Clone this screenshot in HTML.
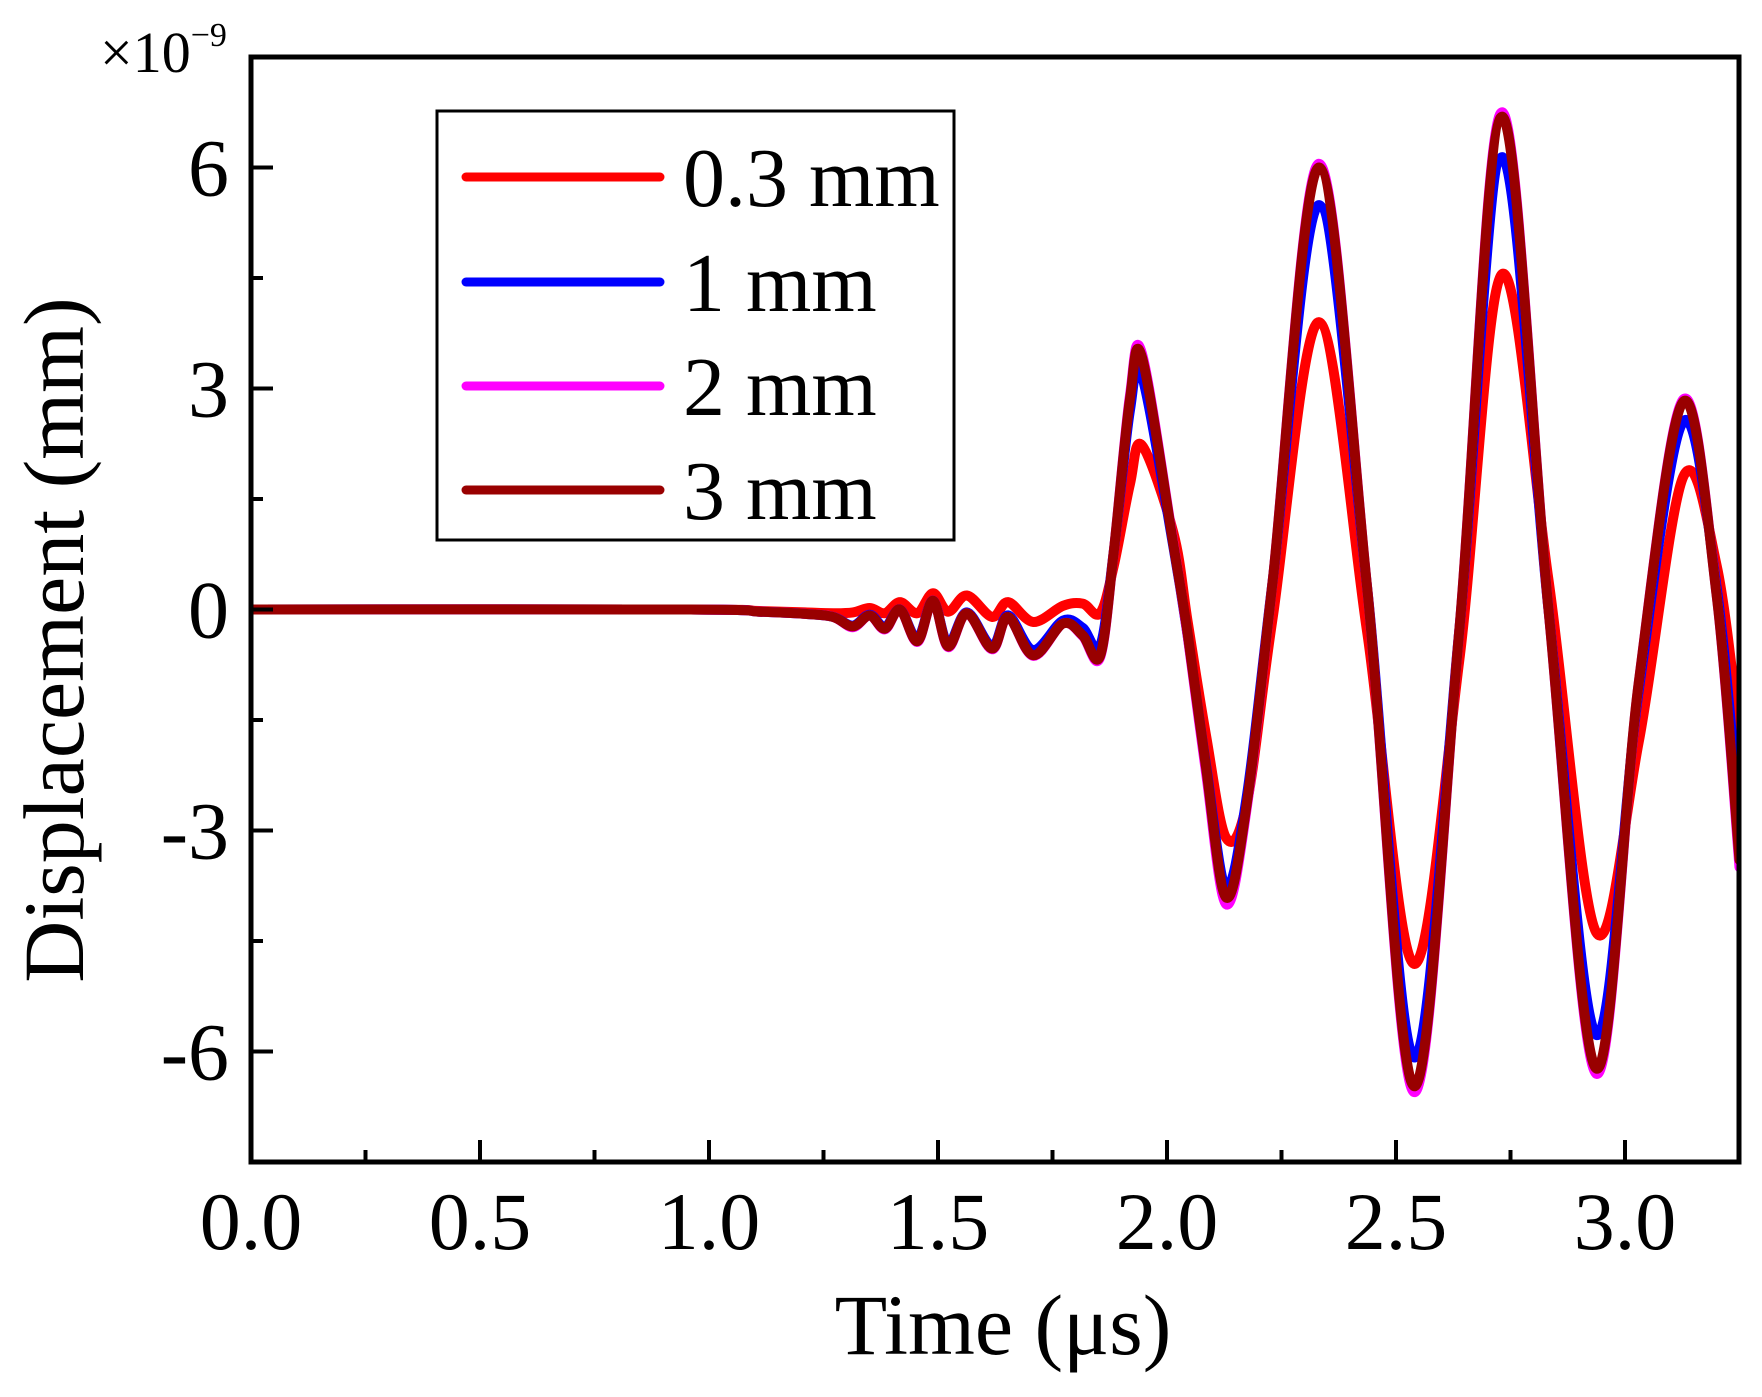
<!DOCTYPE html>
<html><head><meta charset="utf-8"><style>
html,body{margin:0;padding:0;background:#fff;}
svg{display:block;font-family:"Liberation Serif",serif;}
</style></head><body>
<svg id="chart" width="1762" height="1397" viewBox="0 0 1762 1397">
<g id="series"></g>
<g id="axes"></g>
</svg>
<script>
const times = [0, 0.959, 1.11, 1.21, 1.271, 1.314, 1.351, 1.384, 1.417, 1.455, 1.489, 1.522, 1.563, 1.618, 1.653, 1.708, 1.773, 1.816, 1.854, 1.884, 1.919, 1.945, 2.014, 2.045, 2.085, 2.129, 2.175, 2.231, 2.332, 2.437, 2.539, 2.638, 2.731, 2.833, 2.937, 3.03, 3.127, 3.2, 3.25];
const s03 = [0, 0, -0.02, -0.04, -0.05, -0.04, 0.02, -0.05, 0.1, -0.05, 0.22, -0.03, 0.19, -0.1, 0.1, -0.17, 0.05, 0.08, -0.05, 0.6, 1.7, 2.23, 1.04, -0.16, -1.7, -3.1, -2.6, -0.1, 3.9, -0.3, -4.81, -0.7, 4.55, 0.4, -4.38, -1.8, 1.8, 0.6, -1.7];
const s1 = [0, 0, -0.03, -0.06, -0.1, -0.22, -0.07, -0.24, 0.0, -0.4, 0.12, -0.47, -0.04, -0.5, -0.08, -0.55, -0.15, -0.25, -0.5, 0.8, 2.7, 3.18, 0.85, -0.35, -2.1, -3.76, -2.5, 0.4, 5.49, 0.3, -6.08, -0.3, 6.14, 0.0, -5.77, -1.1, 2.55, 0.3, -2.9];
const s2 = [0, 0, -0.03, -0.06, -0.1, -0.24, -0.08, -0.27, 0.0, -0.44, 0.12, -0.51, -0.05, -0.54, -0.1, -0.63, -0.19, -0.36, -0.65, 0.8, 2.9, 3.48, 0.9, -0.35, -2.2, -4.0, -2.65, 0.4, 6.05, 0.3, -6.55, -0.3, 6.75, 0.0, -6.3, -1.0, 2.85, 0.2, -3.5];
const s3 = [0, 0, -0.03, -0.06, -0.1, -0.23, -0.08, -0.26, 0.0, -0.43, 0.12, -0.5, -0.05, -0.53, -0.1, -0.62, -0.19, -0.35, -0.63, 0.8, 2.85, 3.43, 0.88, -0.32, -2.13, -3.91, -2.6, 0.4, 6.0, 0.3, -6.47, -0.3, 6.69, 0.0, -6.23, -1.0, 2.82, 0.2, -3.4];
const seriesNames = ["0.3 mm", "1 mm", "2 mm", "3 mm"];
const xTicks = [0, 0.5, 1.0, 1.5, 2.0, 2.5, 3.0];
const xTickLabels = ["0.0", "0.5", "1.0", "1.5", "2.0", "2.5", "3.0"];
const yTicks = [-6, -3, 0, 3, 6];
const yTickLabels = ["-6", "-3", "0", "3", "6"];

const NS = "http://www.w3.org/2000/svg";
const L = 251, R = 1739, T = 57, B = 1162;
const xMin = 0, xMax = (R - L) / 458, yMin = -7.5, yMax = 7.5;
const sx = v => L + (v - xMin) / (xMax - xMin) * (R - L);
const sy = v => B - (v - yMin) / (yMax - yMin) * (B - T);
function el(tag, attrs, parent) { const e = document.createElementNS(NS, tag); for (const k in attrs) e.setAttribute(k, attrs[k]); parent.appendChild(e); return e; }

function smoothPath(xs, ys) {
  const p = xs.map((x, i) => [sx(x), sy(ys[i])]);
  let d = "M" + p[0][0].toFixed(1) + "," + p[0][1].toFixed(1);
  for (let i = 0; i < p.length - 1; i++) {
    const p0 = p[Math.max(0, i - 1)], p1 = p[i], p2 = p[i + 1], p3 = p[Math.min(p.length - 1, i + 2)];
    const c1x = p1[0] + (p2[0] - p0[0]) / 6, c1y = p1[1] + (p2[1] - p0[1]) / 6;
    const c2x = p2[0] - (p3[0] - p1[0]) / 6, c2y = p2[1] - (p3[1] - p1[1]) / 6;
    d += " C" + c1x.toFixed(1) + "," + c1y.toFixed(1) + " " + c2x.toFixed(1) + "," + c2y.toFixed(1) + " " + p2[0].toFixed(1) + "," + p2[1].toFixed(1);
  }
  return d;
}

const svg = document.getElementById("chart");
const sg = document.getElementById("series");
const ag = document.getElementById("axes");
const defs = el("defs", {}, svg);
const cp = el("clipPath", {id: "plotclip"}, defs);
el("rect", {x: L, y: T, width: R - L, height: B - T}, cp);
sg.setAttribute("clip-path", "url(#plotclip)");

const allSeries = [s03, s1, s2, s3];
const colors = ["#ff0000", "#0000ff", "#ff00ff", "#990000"];
const keys = ["series-0-3mm", "series-1mm", "series-2mm", "series-3mm"];
for (let k = 0; k < allSeries.length; k++) {
  const path = el("path", {d: smoothPath(times, allSeries[k]), fill: "none", stroke: colors[k], "stroke-width": 10, "stroke-linejoin": "round", "stroke-linecap": "round"}, sg);
  
  
}

const frame = el("rect", {x: L, y: T, width: R - L, height: B - T, fill: "none", stroke: "#000", "stroke-width": 5}, ag);



for (let v = 0; v <= xMax + 1e-9; v += 0.25) {
  const major = Math.abs(v * 2 - Math.round(v * 2)) < 1e-6;
  const t = el("line", {x1: sx(v), x2: sx(v), y1: B, y2: B - (major ? 22 : 12), stroke: "#000", "stroke-width": 4}, ag);
  
  
}
xTicks.forEach((v, i) => {
  const tx = el("text", {x: sx(v), y: 1249, "font-size": 82, "text-anchor": "middle"}, ag);
  tx.textContent = xTickLabels[i];
  
  
});
for (let v = -7.5; v <= 7.5 + 1e-9; v += 1.5) {
  const major = Math.abs(v / 3 - Math.round(v / 3)) < 1e-6;
  if (Math.abs(v) > 7.4) continue;
  const t = el("line", {x1: L, x2: L + (major ? 22 : 12), y1: sy(v), y2: sy(v), stroke: "#000", "stroke-width": 4}, ag);
  
  
}
yTicks.forEach((v, i) => {
  const tx = el("text", {x: 229, y: sy(v) + 28, "font-size": 82, "text-anchor": "end"}, ag);
  tx.textContent = yTickLabels[i];
  
  
});

const xt = el("text", {x: 1003, y: 1354, "font-size": 86, "text-anchor": "middle"}, ag);
xt.textContent = "Time (\u03bcs)";


const yt = el("text", {x: 0, y: 0, "font-size": 86, "text-anchor": "middle", transform: "translate(83,640) rotate(-90)"}, ag);
yt.textContent = "Displacement (mm)";


const sc = el("text", {x: 100, y: 72, "font-size": 58}, ag);


sc.appendChild(document.createTextNode("\u00d710"));
const sup = el("tspan", {"font-size": 34, dy: -26}, sc);
sup.textContent = "\u22129";

const lg = el("g", {}, ag);


const lb = el("rect", {x: 437, y: 111, width: 517, height: 429, fill: "#fff", stroke: "#000", "stroke-width": 3}, lg);


const ly = [177, 282, 386, 490];
seriesNames.forEach((n, i) => {
  const ln = el("line", {x1: 466, x2: 660, y1: ly[i], y2: ly[i], stroke: colors[i], "stroke-width": 9, "stroke-linecap": "round"}, lg);
  
  
  const tx = el("text", {x: 683, y: ly[i] + 29, "font-size": 84}, lg);
  tx.textContent = n;
  
  
});
</script>
</body></html>
